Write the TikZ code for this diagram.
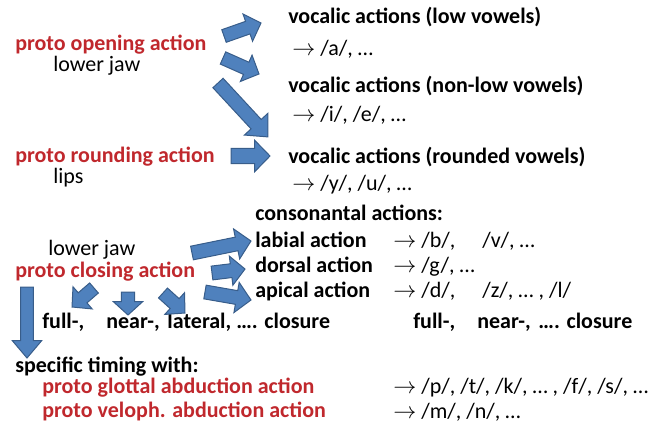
\documentclass[tikz,border=0pt]{standalone}
\usepackage{fontspec}
\setmainfont{Carlito}
\usepackage{xcolor}
\usetikzlibrary{calc}
\definecolor{ProtoRed}{HTML}{C0282D}
\definecolor{ArrowBlue}{HTML}{4F81BD}
\definecolor{ArrowEdge}{HTML}{385D8A}

\tikzset{
  txt/.style={anchor=west, inner sep=0pt, text height=2ex, text depth=0.3ex, font=\fontsize{16.5}{19}\selectfont},
  head/.style={txt, font=\fontsize{16.5}{19}\selectfont\bfseries},
  proto/.style={head, text=ProtoRed},
  blockarrow/.style={fill=ArrowBlue, draw=ArrowEdge, line width=0.75pt, line join=miter}
}

% block arrow: tail, tip, shaft half width, head half width, head length (pt)
\newcommand{\barrow}[5]{%
  \draw[blockarrow] let \p1=($(#2)-(#1)$), \n1={atan2(\y1,\x1)}, \n2={veclen(\x1,\y1)} in
    [shift={(#1)}, rotate=\n1]
    (0pt,{-#3pt}) -- ({\n2-#5pt},{-#3pt}) -- ({\n2-#5pt},{-#4pt}) -- ({\n2},0pt)
    -- ({\n2-#5pt},{#4pt}) -- ({\n2-#5pt},{#3pt}) -- (0pt,{#3pt}) -- cycle;
}

\begin{document}
\begin{tikzpicture}[x=0.75pt, y=-0.75pt]
  \useasboundingbox (0,0) rectangle (649,424);

  % vocalic part
  \node[head] (vlow) at (288,18) {vocalic actions (low vowels)};
  \node[txt] (vlowex) at (292,50) {$\rightarrow$ /a/, …};
  \node[proto] (openact) at (15,45) {proto opening action};
  \node[txt] (openjaw) at (53,66) {lower jaw};
  \node[head] (vnonlow) at (288,87) {vocalic actions (non-low vowels)};
  \node[txt] (vnonlowex) at (292,116) {$\rightarrow$ /i/, /e/, …};
  \node[proto] (roundact) at (15,157) {proto rounding action};
  \node[txt] (roundlips) at (53,178) {lips};
  \node[head] (vround) at (288,158) {vocalic actions (rounded vowels)};
  \node[txt] (vroundex) at (292,185) {$\rightarrow$ /y/, /u/, …};

  % consonantal part
  \node[head] (consact) at (255,215) {consonantal actions:};
  \node[txt] (closejaw) at (48,250) {lower jaw};
  \node[proto] (closeact) at (15,272) {proto closing action};
  \node[head] (labact) at (255,242) {labial action};
  \node[txt] (labex) at (393,242) {$\rightarrow$ /b/,};
  \node[txt] (labexb) at (482,242) {/v/, …};
  \node[head] (dorsact) at (255,267) {dorsal action};
  \node[txt] (dorsex) at (393,267) {$\rightarrow$ /g/, …};
  \node[head] (apicact) at (255,292) {apical action};
  \node[txt] (apicex) at (393,292) {$\rightarrow$ /d/,};
  \node[txt] (apicexb) at (482,292) {/z/, … , /l/};
  \node[head] (closeleft) at (42,323) {full-,\hspace{1em}near-,\hspace{0.35em}lateral, …. closure};
  \node[head] (closeright) at (413,323) {full-,\hspace{1em}near-,\hspace{0.35em}…. closure};

  % timing part
  \node[head] (timing) at (15,367) {specific timing with:};
  \node[proto] (glottact) at (42,388) {proto glottal abduction action};
  \node[proto] (veloact) at (42,412) {proto veloph. abduction action};
  \node[txt] (glottex) at (393,388) {$\rightarrow$ /p/, /t/, /k/, … , /f/, /s/, …};
  \node[txt] (veloex) at (393,413) {$\rightarrow$ /m/, /n/, …};

  % arrow ends
  \coordinate (lowfrom) at (224,36);    \coordinate (lowto) at (261,23);
  \coordinate (nonlowfrom) at (223,58); \coordinate (nonlowto) at (259,74);
  \coordinate (diagfrom) at (218,83);   \coordinate (diagto) at (268,137);
  \coordinate (roundfrom) at (231,156); \coordinate (roundto) at (270,156);
  \coordinate (labfrom) at (192,253);   \coordinate (labto) at (251,241);
  \coordinate (dorsfrom) at (212,273);  \coordinate (dorsto) at (245,269);
  \coordinate (apicfrom) at (205,292);  \coordinate (apicto) at (251,300);
  \coordinate (fullfrom) at (94,288);   \coordinate (fullto) at (72,307);
  \coordinate (nearfrom) at (128,292);  \coordinate (nearto) at (128,315);
  \coordinate (latfrom) at (163,293);   \coordinate (latto) at (185,313);
  \coordinate (timefrom) at (27,287);   \coordinate (timeto) at (27,358);

  \barrow{lowfrom}{lowto}{5}{10.8}{10.5}
  \barrow{nonlowfrom}{nonlowto}{5}{10.8}{10.5}
  \barrow{diagfrom}{diagto}{5.2}{12}{13}
  \barrow{roundfrom}{roundto}{5.8}{11.8}{11.5}
  \barrow{labfrom}{labto}{5.2}{11.5}{11}
  \barrow{dorsfrom}{dorsto}{5.2}{11}{10.5}
  \barrow{apicfrom}{apicto}{5.2}{11.5}{11}
  \barrow{fullfrom}{fullto}{5}{11}{10.5}
  \barrow{nearfrom}{nearto}{5}{11}{10}
  \barrow{latfrom}{latto}{5}{11}{10.5}
  \barrow{timefrom}{timeto}{4.8}{11}{13}
\end{tikzpicture}
\end{document}
